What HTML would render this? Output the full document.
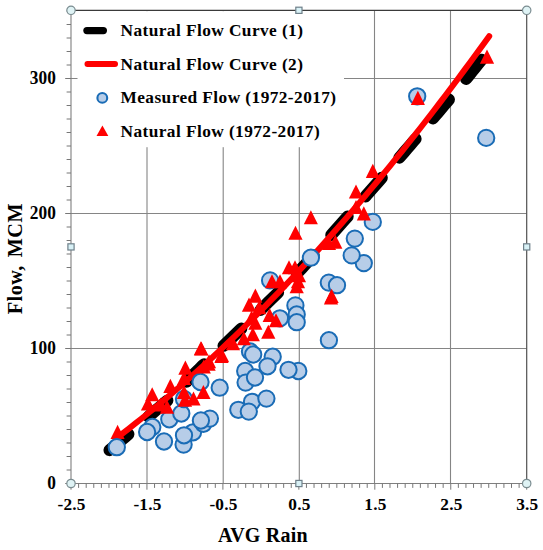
<!DOCTYPE html>
<html><head><meta charset="utf-8"><title>Flow vs AVG Rain</title>
<style>
html,body{margin:0;padding:0;background:#fff;}
body{width:543px;height:550px;overflow:hidden;font-family:"Liberation Serif",serif;}
svg{display:block;}
text{font-family:"Liberation Serif",serif;font-weight:bold;fill:#000;}
</style></head><body>
<svg width="543" height="550" viewBox="0 0 543 550">
<rect x="0" y="0" width="543" height="550" fill="#ffffff"/>

<g stroke="#858585" stroke-width="1.1" fill="none">
<line x1="147.00" y1="10.3" x2="147.00" y2="483.5"/>
<line x1="223.20" y1="10.3" x2="223.20" y2="483.5"/>
<line x1="299.30" y1="10.3" x2="299.30" y2="483.5"/>
<line x1="374.50" y1="10.3" x2="374.50" y2="483.5"/>
<line x1="450.50" y1="10.3" x2="450.50" y2="483.5"/>
<line x1="71.0" y1="348.50" x2="526.7" y2="348.50"/>
<line x1="71.0" y1="213.50" x2="526.7" y2="213.50"/>
<line x1="71.0" y1="78.50" x2="526.7" y2="78.50"/>
</g>
<line x1="71.0" y1="10.3" x2="526.7" y2="10.3" stroke="#3a3a3a" stroke-width="1.2"/>
<line x1="526.7" y1="10.3" x2="526.7" y2="483.5" stroke="#505050" stroke-width="1.2"/>
<line x1="71.0" y1="10.3" x2="71.0" y2="483.5" stroke="#7f7f7f" stroke-width="1.1"/>
<line x1="71.0" y1="483.5" x2="526.7" y2="483.5" stroke="#7f7f7f" stroke-width="1.1"/>
<g stroke="#777777" stroke-width="1">
<line x1="65.20" y1="483.50" x2="71.0" y2="483.50"/>
<line x1="66.60" y1="470.00" x2="71.0" y2="470.00"/>
<line x1="66.60" y1="456.50" x2="71.0" y2="456.50"/>
<line x1="66.60" y1="443.00" x2="71.0" y2="443.00"/>
<line x1="66.60" y1="429.50" x2="71.0" y2="429.50"/>
<line x1="66.60" y1="416.00" x2="71.0" y2="416.00"/>
<line x1="66.60" y1="402.50" x2="71.0" y2="402.50"/>
<line x1="66.60" y1="389.00" x2="71.0" y2="389.00"/>
<line x1="66.60" y1="375.50" x2="71.0" y2="375.50"/>
<line x1="66.60" y1="362.00" x2="71.0" y2="362.00"/>
<line x1="65.20" y1="348.50" x2="71.0" y2="348.50"/>
<line x1="66.60" y1="335.00" x2="71.0" y2="335.00"/>
<line x1="66.60" y1="321.50" x2="71.0" y2="321.50"/>
<line x1="66.60" y1="308.00" x2="71.0" y2="308.00"/>
<line x1="66.60" y1="294.50" x2="71.0" y2="294.50"/>
<line x1="66.60" y1="281.00" x2="71.0" y2="281.00"/>
<line x1="66.60" y1="267.50" x2="71.0" y2="267.50"/>
<line x1="66.60" y1="254.00" x2="71.0" y2="254.00"/>
<line x1="66.60" y1="240.50" x2="71.0" y2="240.50"/>
<line x1="66.60" y1="227.00" x2="71.0" y2="227.00"/>
<line x1="65.20" y1="213.50" x2="71.0" y2="213.50"/>
<line x1="66.60" y1="200.00" x2="71.0" y2="200.00"/>
<line x1="66.60" y1="186.50" x2="71.0" y2="186.50"/>
<line x1="66.60" y1="173.00" x2="71.0" y2="173.00"/>
<line x1="66.60" y1="159.50" x2="71.0" y2="159.50"/>
<line x1="66.60" y1="146.00" x2="71.0" y2="146.00"/>
<line x1="66.60" y1="132.50" x2="71.0" y2="132.50"/>
<line x1="66.60" y1="119.00" x2="71.0" y2="119.00"/>
<line x1="66.60" y1="105.50" x2="71.0" y2="105.50"/>
<line x1="66.60" y1="92.00" x2="71.0" y2="92.00"/>
<line x1="65.20" y1="78.50" x2="71.0" y2="78.50"/>
<line x1="66.60" y1="65.00" x2="71.0" y2="65.00"/>
<line x1="66.60" y1="51.50" x2="71.0" y2="51.50"/>
<line x1="66.60" y1="38.00" x2="71.0" y2="38.00"/>
<line x1="66.60" y1="24.50" x2="71.0" y2="24.50"/>
<line x1="66.60" y1="11.00" x2="71.0" y2="11.00"/>
<line x1="71.00" y1="483.5" x2="71.00" y2="489.70"/>
<line x1="78.60" y1="483.5" x2="78.60" y2="487.90"/>
<line x1="86.19" y1="483.5" x2="86.19" y2="487.90"/>
<line x1="93.78" y1="483.5" x2="93.78" y2="487.90"/>
<line x1="101.38" y1="483.5" x2="101.38" y2="487.90"/>
<line x1="108.97" y1="483.5" x2="108.97" y2="487.90"/>
<line x1="116.57" y1="483.5" x2="116.57" y2="487.90"/>
<line x1="124.17" y1="483.5" x2="124.17" y2="487.90"/>
<line x1="131.76" y1="483.5" x2="131.76" y2="487.90"/>
<line x1="139.36" y1="483.5" x2="139.36" y2="487.90"/>
<line x1="146.95" y1="483.5" x2="146.95" y2="489.70"/>
<line x1="154.55" y1="483.5" x2="154.55" y2="487.90"/>
<line x1="162.14" y1="483.5" x2="162.14" y2="487.90"/>
<line x1="169.74" y1="483.5" x2="169.74" y2="487.90"/>
<line x1="177.33" y1="483.5" x2="177.33" y2="487.90"/>
<line x1="184.93" y1="483.5" x2="184.93" y2="487.90"/>
<line x1="192.52" y1="483.5" x2="192.52" y2="487.90"/>
<line x1="200.12" y1="483.5" x2="200.12" y2="487.90"/>
<line x1="207.71" y1="483.5" x2="207.71" y2="487.90"/>
<line x1="215.31" y1="483.5" x2="215.31" y2="487.90"/>
<line x1="222.90" y1="483.5" x2="222.90" y2="489.70"/>
<line x1="230.50" y1="483.5" x2="230.50" y2="487.90"/>
<line x1="238.09" y1="483.5" x2="238.09" y2="487.90"/>
<line x1="245.69" y1="483.5" x2="245.69" y2="487.90"/>
<line x1="253.28" y1="483.5" x2="253.28" y2="487.90"/>
<line x1="260.88" y1="483.5" x2="260.88" y2="487.90"/>
<line x1="268.47" y1="483.5" x2="268.47" y2="487.90"/>
<line x1="276.07" y1="483.5" x2="276.07" y2="487.90"/>
<line x1="283.66" y1="483.5" x2="283.66" y2="487.90"/>
<line x1="291.25" y1="483.5" x2="291.25" y2="487.90"/>
<line x1="298.85" y1="483.5" x2="298.85" y2="489.70"/>
<line x1="306.45" y1="483.5" x2="306.45" y2="487.90"/>
<line x1="314.04" y1="483.5" x2="314.04" y2="487.90"/>
<line x1="321.63" y1="483.5" x2="321.63" y2="487.90"/>
<line x1="329.23" y1="483.5" x2="329.23" y2="487.90"/>
<line x1="336.83" y1="483.5" x2="336.83" y2="487.90"/>
<line x1="344.42" y1="483.5" x2="344.42" y2="487.90"/>
<line x1="352.02" y1="483.5" x2="352.02" y2="487.90"/>
<line x1="359.61" y1="483.5" x2="359.61" y2="487.90"/>
<line x1="367.21" y1="483.5" x2="367.21" y2="487.90"/>
<line x1="374.80" y1="483.5" x2="374.80" y2="489.70"/>
<line x1="382.40" y1="483.5" x2="382.40" y2="487.90"/>
<line x1="389.99" y1="483.5" x2="389.99" y2="487.90"/>
<line x1="397.59" y1="483.5" x2="397.59" y2="487.90"/>
<line x1="405.18" y1="483.5" x2="405.18" y2="487.90"/>
<line x1="412.78" y1="483.5" x2="412.78" y2="487.90"/>
<line x1="420.37" y1="483.5" x2="420.37" y2="487.90"/>
<line x1="427.97" y1="483.5" x2="427.97" y2="487.90"/>
<line x1="435.56" y1="483.5" x2="435.56" y2="487.90"/>
<line x1="443.16" y1="483.5" x2="443.16" y2="487.90"/>
<line x1="450.75" y1="483.5" x2="450.75" y2="489.70"/>
<line x1="458.35" y1="483.5" x2="458.35" y2="487.90"/>
<line x1="465.94" y1="483.5" x2="465.94" y2="487.90"/>
<line x1="473.54" y1="483.5" x2="473.54" y2="487.90"/>
<line x1="481.13" y1="483.5" x2="481.13" y2="487.90"/>
<line x1="488.73" y1="483.5" x2="488.73" y2="487.90"/>
<line x1="496.32" y1="483.5" x2="496.32" y2="487.90"/>
<line x1="503.92" y1="483.5" x2="503.92" y2="487.90"/>
<line x1="511.51" y1="483.5" x2="511.51" y2="487.90"/>
<line x1="519.11" y1="483.5" x2="519.11" y2="487.90"/>
<line x1="526.70" y1="483.5" x2="526.70" y2="489.70"/>
</g>
<path d="M481.60 59.66 L478.50 63.59 L475.40 67.47 L472.30 71.32 L469.20 75.14 L466.10 78.94 L463.00 82.71 L459.89 86.46 L456.79 90.18 L453.69 93.89 L450.59 97.58 L447.49 101.27 L444.39 104.95 L441.29 108.63 L438.19 112.30 L435.09 115.97 L431.99 119.63 L428.89 123.29 L425.79 126.95 L422.68 130.59 L419.58 134.22 L416.48 137.84 L413.38 141.46 L410.28 145.07 L407.18 148.67 L404.08 152.26 L400.98 155.85 L397.88 159.44 L394.78 163.01 L391.68 166.57 L388.58 170.11 L385.47 173.64 L382.37 177.16 L379.27 180.69 L376.17 184.22 L373.07 187.74 L369.97 191.27 L366.87 194.79 L363.77 198.31 L360.67 201.83 L357.57 205.34 L354.47 208.82 L351.37 212.30 L348.26 215.76 L345.16 219.24 L342.06 222.74 L338.96 226.24 L335.86 229.77 L332.76 233.30 L329.66 236.85 L326.56 240.41 L323.46 243.99 L320.36 247.55 L317.26 251.09 L314.15 254.62 L311.05 258.12 L307.95 261.58 L304.85 264.99 L301.75 268.35 L298.65 271.67 L295.55 274.93 L292.45 278.14 L289.35 281.31 L286.25 284.42 L283.15 287.51 L280.05 290.59 L276.94 293.66 L273.84 296.73 L270.74 299.79 L267.64 302.86 L264.54 305.92 L261.44 308.98 L258.34 312.03 L255.24 315.09 L252.14 318.13 L249.04 321.16 L245.94 324.17 L242.84 327.18 L239.73 330.18 L236.63 333.17 L233.53 336.16 L230.43 339.14 L227.33 342.11 L224.23 345.07 L221.13 348.03 L218.03 350.98 L214.93 353.90 L211.83 356.82 L208.73 359.74 L205.63 362.70 L202.53 365.68 L199.42 368.69 L196.32 371.74 L193.22 374.84 L190.12 378.00 L187.02 381.20 L183.92 384.42 L180.82 387.60 L177.72 390.71 L174.62 393.74 L171.52 396.69 L168.42 399.55 L165.31 402.32 L162.21 404.99 L159.11 407.60 L156.01 410.19 L152.91 412.82 L149.81 415.46 L146.71 418.13 L143.61 420.83 L140.51 423.55 L137.41 426.29 L134.31 429.03 L131.21 431.76 L128.11 434.45 L125.00 437.13 L121.90 439.78 L118.80 442.41 L115.70 445.01 L112.60 447.60 L109.50 450.14" stroke="#000" stroke-width="12" stroke-linecap="round" stroke-linejoin="round" stroke-dasharray="24.8 26.75" fill="none"/>
<path d="M116.80 437.85 L123.01 433.12 L129.21 428.32 L135.42 423.45 L141.63 418.52 L147.83 413.51 L154.04 408.44 L160.25 403.30 L166.45 398.09 L172.66 392.82 L178.87 387.47 L185.07 382.06 L191.28 376.58 L197.49 371.03 L203.69 365.41 L209.90 359.73 L216.11 353.98 L222.31 348.16 L228.52 342.28 L234.73 336.32 L240.93 330.31 L247.14 324.22 L253.35 318.07 L259.55 311.85 L265.76 305.57 L271.97 299.21 L278.17 292.80 L284.38 286.31 L290.59 279.77 L296.79 273.15 L303.00 266.47 L309.21 259.73 L315.41 252.91 L321.62 246.04 L327.83 239.10 L334.03 232.09 L340.24 225.02 L346.45 217.88 L352.65 210.68 L358.86 203.42 L365.07 196.09 L371.27 188.69 L377.48 181.24 L383.69 173.71 L389.89 166.13 L396.10 158.48 L402.31 150.76 L408.51 142.99 L414.72 135.15 L420.93 127.24 L427.13 119.27 L433.34 111.24 L439.55 103.15 L445.75 95.00 L451.96 86.78 L458.17 78.50 L464.37 70.15 L470.58 61.74 L476.79 53.28 L482.99 44.75 L489.20 36.15" stroke="#ff0000" stroke-width="6" stroke-linecap="round" stroke-linejoin="round" fill="none"/>
<g fill="#b7cde8" stroke="#1a6cb6" stroke-width="2">
<circle cx="152.3" cy="427" r="8.15"/>
<circle cx="147.1" cy="432" r="8.15"/>
<circle cx="164" cy="441.5" r="8.15"/>
<circle cx="169.3" cy="419.3" r="8.15"/>
<circle cx="181.3" cy="413.5" r="8.15"/>
<circle cx="183.6" cy="444.6" r="8.15"/>
<circle cx="193" cy="432.3" r="8.15"/>
<circle cx="184" cy="435.3" r="8.15"/>
<circle cx="203.4" cy="423.8" r="8.15"/>
<circle cx="209.9" cy="418.6" r="8.15"/>
<circle cx="200.9" cy="420.5" r="8.15"/>
<circle cx="184" cy="399" r="8.15"/>
<circle cx="200.5" cy="382" r="8.15"/>
<circle cx="219.7" cy="387.7" r="8.15"/>
<circle cx="310.9" cy="257.7" r="8.15"/>
<circle cx="270.1" cy="280.4" r="8.15"/>
<circle cx="328.8" cy="282.6" r="8.15"/>
<circle cx="337" cy="285.2" r="8.15"/>
<circle cx="295.4" cy="305.4" r="8.15"/>
<circle cx="296.7" cy="314.5" r="8.15"/>
<circle cx="296.7" cy="322.2" r="8.15"/>
<circle cx="279.9" cy="318.3" r="8.15"/>
<circle cx="328.9" cy="340.2" r="8.15"/>
<circle cx="250" cy="351.5" r="8.15"/>
<circle cx="253.2" cy="354.5" r="8.15"/>
<circle cx="272.7" cy="356.7" r="8.15"/>
<circle cx="267.5" cy="366.3" r="8.15"/>
<circle cx="298.3" cy="371" r="8.15"/>
<circle cx="288.5" cy="369.8" r="8.15"/>
<circle cx="245.2" cy="371" r="8.15"/>
<circle cx="245.6" cy="382.6" r="8.15"/>
<circle cx="255" cy="377.5" r="8.15"/>
<circle cx="252" cy="401.8" r="8.15"/>
<circle cx="238.3" cy="409.8" r="8.15"/>
<circle cx="248.8" cy="411.6" r="8.15"/>
<circle cx="266.4" cy="398.6" r="8.15"/>
<circle cx="372.8" cy="221.9" r="8.15"/>
<circle cx="354.8" cy="238.6" r="8.15"/>
<circle cx="363.8" cy="263.1" r="8.15"/>
<circle cx="351.7" cy="255.4" r="8.15"/>
<circle cx="417.2" cy="96.3" r="8.15"/>
<circle cx="486.2" cy="137.9" r="8.15"/>
</g>
<g fill="#ff0000" stroke="none">
<path d="M117.6 424.8 L124.6 438.9 L110.5 438.9Z"/>
<path d="M152.2 387.2 L159.2 401.3 L145.1 401.3Z"/>
<path d="M148.0 396.5 L155.1 410.6 L140.9 410.6Z"/>
<path d="M160.5 397.5 L167.6 411.6 L153.4 411.6Z"/>
<path d="M170.4 378.8 L177.5 392.9 L163.3 392.9Z"/>
<path d="M167.0 399.7 L174.1 413.8 L159.9 413.8Z"/>
<path d="M185.4 360.6 L192.5 374.7 L178.3 374.7Z"/>
<path d="M184.0 370.9 L191.1 385.0 L176.9 385.0Z"/>
<path d="M184.0 385.0 L191.1 399.1 L176.9 399.1Z"/>
<path d="M185.0 392.6 L192.1 406.7 L177.9 406.7Z"/>
<path d="M193.5 391.5 L200.6 405.6 L186.4 405.6Z"/>
<path d="M203.4 385.0 L210.5 399.1 L196.3 399.1Z"/>
<path d="M200.9 341.2 L208.0 355.3 L193.8 355.3Z"/>
<path d="M208.6 356.7 L215.7 370.8 L201.5 370.8Z"/>
<path d="M203.8 359.5 L210.9 373.6 L196.8 373.6Z"/>
<path d="M221.5 349.0 L228.6 363.1 L214.4 363.1Z"/>
<path d="M209.0 354.2 L216.1 368.3 L201.9 368.3Z"/>
<path d="M221.9 347.9 L229.0 362.0 L214.8 362.0Z"/>
<path d="M201.3 341.5 L208.4 355.6 L194.2 355.6Z"/>
<path d="M331.0 290.4 L338.1 304.5 L323.9 304.5Z"/>
<path d="M295.0 260.2 L302.1 274.3 L287.9 274.3Z"/>
<path d="M289.0 260.2 L296.1 274.3 L281.9 274.3Z"/>
<path d="M299.0 268.2 L306.1 282.3 L291.9 282.3Z"/>
<path d="M298.0 274.2 L305.1 288.3 L290.9 288.3Z"/>
<path d="M296.7 279.2 L303.8 293.3 L289.6 293.3Z"/>
<path d="M272.0 274.2 L279.1 288.3 L264.9 288.3Z"/>
<path d="M280.0 274.2 L287.1 288.3 L272.9 288.3Z"/>
<path d="M255.4 288.6 L262.4 302.7 L248.3 302.7Z"/>
<path d="M249.0 297.6 L256.1 311.7 L241.9 311.7Z"/>
<path d="M259.3 300.2 L266.4 314.3 L252.2 314.3Z"/>
<path d="M269.6 307.9 L276.7 322.0 L262.6 322.0Z"/>
<path d="M251.6 310.5 L258.6 324.6 L244.5 324.6Z"/>
<path d="M255.4 315.7 L262.4 329.8 L248.3 329.8Z"/>
<path d="M276.0 313.2 L283.1 327.3 L268.9 327.3Z"/>
<path d="M268.3 324.7 L275.4 338.8 L261.2 338.8Z"/>
<path d="M252.8 327.2 L259.9 341.3 L245.8 341.3Z"/>
<path d="M243.8 331.2 L250.9 345.3 L236.8 345.3Z"/>
<path d="M233.0 336.2 L240.1 350.3 L225.9 350.3Z"/>
<path d="M372.8 163.8 L379.9 177.9 L365.8 177.9Z"/>
<path d="M356.0 184.4 L363.1 198.5 L348.9 198.5Z"/>
<path d="M356.0 199.9 L363.1 214.0 L348.9 214.0Z"/>
<path d="M363.8 206.3 L370.9 220.4 L356.8 220.4Z"/>
<path d="M310.9 210.2 L317.9 224.3 L303.8 224.3Z"/>
<path d="M295.5 225.7 L302.6 239.8 L288.4 239.8Z"/>
<path d="M335.4 234.7 L342.4 248.8 L328.3 248.8Z"/>
<path d="M329.0 236.0 L336.1 250.1 L321.9 250.1Z"/>
<path d="M331.6 288.8 L338.7 302.9 L324.6 302.9Z"/>
<path d="M417.9 90.8 L424.9 104.9 L410.8 104.9Z"/>
<path d="M487.0 49.6 L494.1 63.7 L479.9 63.7Z"/>
</g>
<circle cx="116.8" cy="447.2" r="8.15" fill="#b7cde8" stroke="#1a6cb6" stroke-width="2"/>
<rect x="77.5" y="11.2" width="266.5" height="136" fill="#fff"/>
<line x1="87" y1="30.6" x2="103.3" y2="30.6" stroke="#000" stroke-width="7.4" stroke-linecap="round"/>
<line x1="87.5" y1="63.9" x2="115" y2="63.9" stroke="#ff0000" stroke-width="6" stroke-linecap="round"/>
<circle cx="102.3" cy="97.9" r="4.9" fill="#b7cde8" stroke="#1a6cb6" stroke-width="2.1"/>
<path d="M102.4 125.6 L108.3 136 L96.5 136Z" fill="#ff0000"/>
<g font-size="17.33px" letter-spacing="0.42">
<text transform="translate(120.5,36.0) scale(1,1.01)">Natural Flow Curve (1)</text>
<text transform="translate(120.5,69.5) scale(1,1.01)">Natural Flow Curve (2)</text>
<text transform="translate(120.5,103.0) scale(1,1.01)">Measured Flow (1972-2017)</text>
<text transform="translate(120.5,136.5) scale(1,1.01)">Natural Flow (1972-2017)</text>
</g>
<g font-size="17.33px" letter-spacing="0.2" text-anchor="end">
<text transform="translate(56.2,489.2) scale(1,1.04)">0</text>
<text transform="translate(56.2,354.2) scale(1,1.04)">100</text>
<text transform="translate(56.2,219.2) scale(1,1.04)">200</text>
<text transform="translate(56.2,84.2) scale(1,1.04)">300</text>
</g>
<g font-size="17.33px" letter-spacing="0.2" text-anchor="middle">
<text transform="translate(71.6,510.4) scale(1,0.98)">-2.5</text>
<text transform="translate(147.5,510.4) scale(1,0.98)">-1.5</text>
<text transform="translate(223.5,510.4) scale(1,0.98)">-0.5</text>
<text transform="translate(299.5,510.4) scale(1,0.98)">0.5</text>
<text transform="translate(375.4,510.4) scale(1,0.98)">1.5</text>
<text transform="translate(451.4,510.4) scale(1,0.98)">2.5</text>
<text transform="translate(527.3,510.4) scale(1,0.98)">3.5</text>
</g>
<text transform="translate(263,541.8) scale(1,1.07)" font-size="20px" letter-spacing="0.25" text-anchor="middle">AVG Rain</text>
<text transform="translate(21.8,258.6) rotate(-90)" font-size="20.3px" letter-spacing="0.5" text-anchor="middle">Flow,&#160;<tspan dx="2.2">MCM</tspan></text>
<circle cx="71.0" cy="10.3" r="4.2" fill="#dff3f5" stroke="#7a8c90" stroke-width="1.2"/>
<circle cx="526.7" cy="10.3" r="4.2" fill="#dff3f5" stroke="#7a8c90" stroke-width="1.2"/>
<circle cx="71.0" cy="483.5" r="4.2" fill="#dff3f5" stroke="#7a8c90" stroke-width="1.2"/>
<circle cx="526.7" cy="483.5" r="4.2" fill="#dff3f5" stroke="#7a8c90" stroke-width="1.2"/>
<rect x="295.8" y="7.2" width="6.2" height="6.2" fill="#d8f1f6" stroke="#6f808a" stroke-width="1.2"/>
<rect x="295.8" y="480.4" width="6.2" height="6.2" fill="#d8f1f6" stroke="#6f808a" stroke-width="1.2"/>
<rect x="67.9" y="243.8" width="6.2" height="6.2" fill="#d8f1f6" stroke="#6f808a" stroke-width="1.2"/>
<rect x="523.6" y="243.8" width="6.2" height="6.2" fill="#d8f1f6" stroke="#6f808a" stroke-width="1.2"/>
</svg></body></html>
